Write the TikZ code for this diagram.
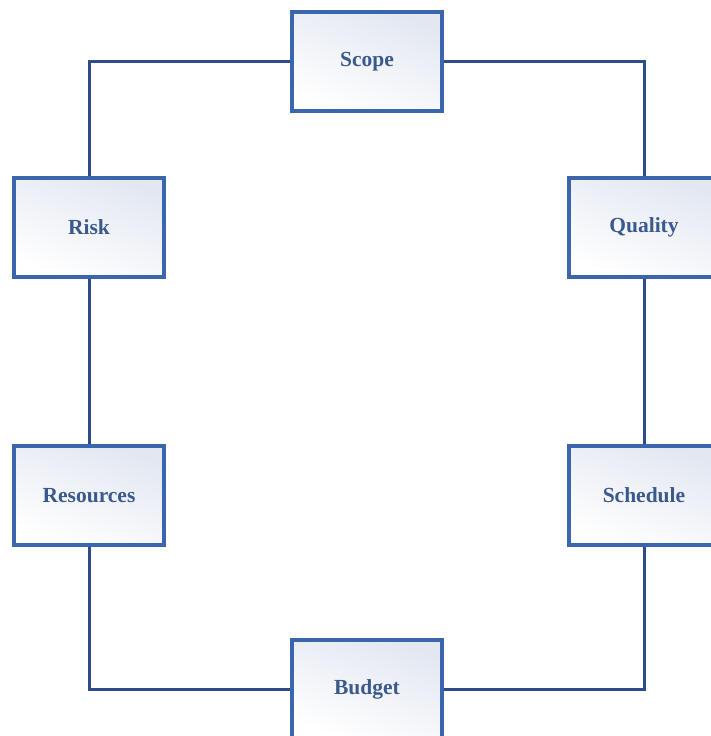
\documentclass[tikz,border=0pt]{standalone}
\usepackage{fontspec}
\setmainfont{Liberation Serif}
\usepackage{tikz}
\usepackage{xcolor}

\definecolor{boxline}{HTML}{3C66AC}
\definecolor{linkline}{HTML}{2D4D88}
\definecolor{boxtext}{HTML}{3A5A8E}
\definecolor{boxshade}{HTML}{E2E7F1}

\tikzset{
	area/.style={draw=boxline, line width=4pt, minimum width=150pt, minimum height=99pt,
		top color=boxshade, bottom color=white, shading angle=-20,
		text=boxtext, font=\fontsize{21.5}{24}\selectfont\bfseries},
	link/.style={draw=linkline, line width=3pt}
}

\begin{document}
\begin{tikzpicture}[x=1pt, y=-1pt]
	\clip (0,0) rectangle (711,736);
	\useasboundingbox (0,0) rectangle (711,736);
	\foreach \name/\label/\x/\y in {scope/Scope/367/61.5, risk/Risk/89/227, quality/Quality/644/227,
		resources/Resources/89/495.5, schedule/Schedule/644/495.5, budget/Budget/367/689}
	{
		\node[area] (\name) at (\x,\y) {\label};
	}
	\draw[link] (scope) -| (risk);
	\draw[link] (scope) -| (quality);
	\draw[link] (risk) -- (resources);
	\draw[link] (quality) -- (schedule);
	\draw[link] (resources) |- (budget);
	\draw[link] (schedule) |- (budget);
\end{tikzpicture}
\end{document}
